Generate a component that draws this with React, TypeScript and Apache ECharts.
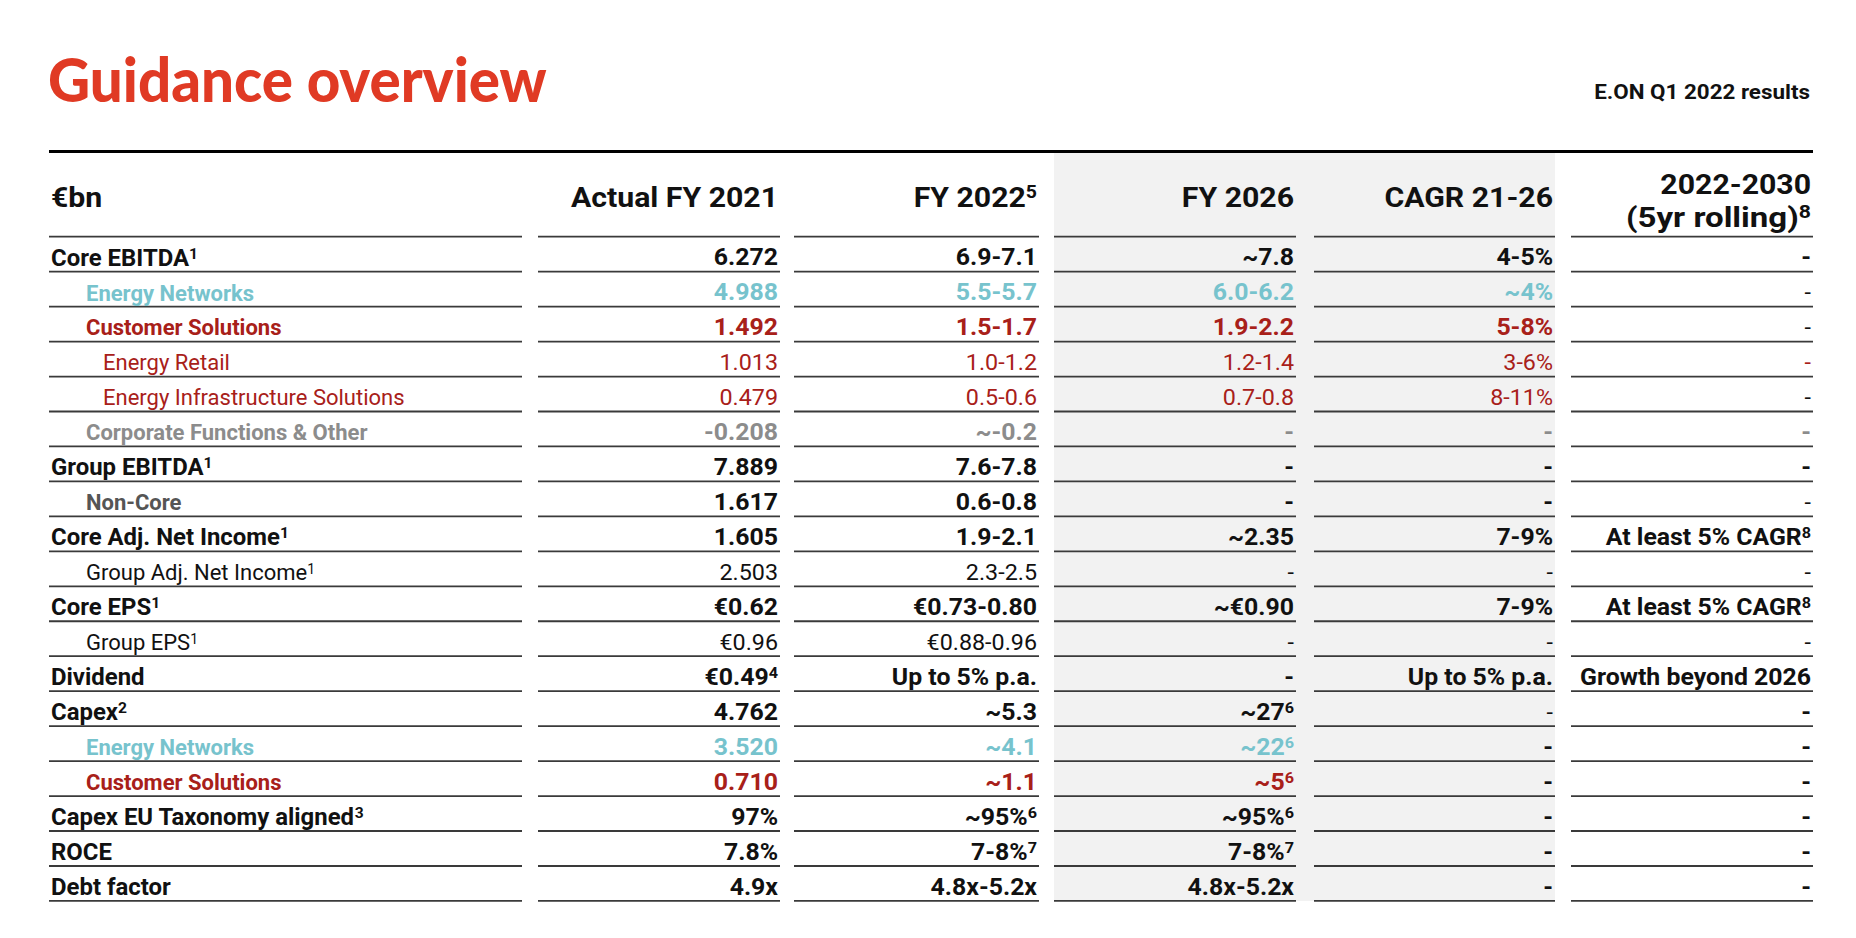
import React, { useEffect, useRef } from "react";
import * as echarts from "echarts";

// ---------- data ----------
const title = "Guidance overview";
const subtitle = "E.ON Q1 2022 results";
const headers = ["€bn", "Actual FY 2021", "FY 2022^5", "FY 2026", "CAGR 21-26", "2022-2030", "(5yr rolling)^8"];

const rowLabels = [
  "Core EBITDA^1",
  "Energy Networks",
  "Customer Solutions",
  "Energy Retail",
  "Energy Infrastructure Solutions",
  "Corporate Functions & Other",
  "Group EBITDA^1",
  "Non-Core",
  "Core Adj. Net Income^1",
  "Group Adj. Net Income^1",
  "Core EPS^1",
  "Group EPS^1",
  "Dividend",
  "Capex^2",
  "Energy Networks",
  "Customer Solutions",
  "Capex EU Taxonomy aligned^3",
  "ROCE",
  "Debt factor",
];
const actualFY2021 = ["6.272", "4.988", "1.492", "1.013", "0.479", "-0.208", "7.889", "1.617", "1.605", "2.503", "€0.62", "€0.96", "€0.49^4", "4.762", "3.520", "0.710", "97%", "7.8%", "4.9x"];
const fy2022 = ["6.9-7.1", "5.5-5.7", "1.5-1.7", "1.0-1.2", "0.5-0.6", "~-0.2", "7.6-7.8", "0.6-0.8", "1.9-2.1", "2.3-2.5", "€0.73-0.80", "€0.88-0.96", "Up to 5% p.a.", "~5.3", "~4.1", "~1.1", "~95%^6", "7-8%^7", "4.8x-5.2x"];
const fy2026 = ["~7.8", "6.0-6.2", "1.9-2.2", "1.2-1.4", "0.7-0.8", "-", "-", "-", "~2.35", "-", "~€0.90", "-", "-", "~27^6", "~22^6", "~5^6", "~95%^6", "7-8%^7", "4.8x-5.2x"];
const cagr2126 = ["4-5%", "~4%", "5-8%", "3-6%", "8-11%", "-", "-", "-", "7-9%", "-", "7-9%", "-", "Up to 5% p.a.", "-", "-", "-", "-", "-", "-"];
const rolling2230 = ["-", "-", "-", "-", "-", "-", "-", "-", "At least 5% CAGR^8", "-", "At least 5% CAGR^8", "-", "Growth beyond 2026", "-", "-", "-", "-", "-", "-"];

// ---------- styles ----------
const RED = "#E03A24";
const TEAL = "#77C3CD";
const DRED = "#A82019";
const GREY = "#8C8C8C";
const DGREY = "#555555";
const BLACK = "#111111";
const FONT = "Roboto, 'Noto Sans', sans-serif";

type RS = { c: string; b: boolean; ind: number; vc?: (string | null)[]; vb?: (boolean | null)[] };
const rowStyles: RS[] = [
  { c: BLACK, b: true, ind: 0 },
  { c: TEAL, b: true, ind: 1, vc: [null, null, null, null, BLACK], vb: [null, null, null, null, false] },
  { c: DRED, b: true, ind: 1, vc: [null, null, null, null, BLACK], vb: [null, null, null, null, false] },
  { c: DRED, b: false, ind: 2 },
  { c: DRED, b: false, ind: 2, vc: [null, null, null, null, BLACK] },
  { c: GREY, b: true, ind: 1 },
  { c: BLACK, b: true, ind: 0 },
  { c: DGREY, b: true, ind: 1, vc: [BLACK, BLACK, BLACK, BLACK, BLACK], vb: [null, null, null, null, false] },
  { c: BLACK, b: true, ind: 0 },
  { c: BLACK, b: false, ind: 1 },
  { c: BLACK, b: true, ind: 0 },
  { c: BLACK, b: false, ind: 1 },
  { c: BLACK, b: true, ind: 0 },
  { c: BLACK, b: true, ind: 0, vb: [null, null, null, false, null] },
  { c: TEAL, b: true, ind: 1, vc: [null, null, null, BLACK, BLACK] },
  { c: DRED, b: true, ind: 1, vc: [null, null, null, BLACK, BLACK] },
  { c: BLACK, b: true, ind: 0 },
  { c: BLACK, b: true, ind: 0 },
  { c: BLACK, b: true, ind: 0 },
];

// layout
const LEFT = 49;
const INDENT = [51, 86, 103];
const colSegs = [
  [49, 522],
  [538, 780],
  [794, 1039],
  [1054, 1296],
  [1314, 1555],
  [1571, 1813],
];
const TOP_LINE_Y = 151.5;
const HEAD_LINE_Y = 236.7;
const ROW_H = 34.96;
const BOLD_SIZE = 23;
const NORM_SIZE = 22;
const BOLD_LABEL_SX = 1.04;
const SUB_BOLD_LABEL_SX = 1.0;
const BOLD_VALUE_SX = 1.08;
const NORM_LABEL_SX = 1.0;
const NORM_VALUE_SX = 1.06;

function makeText(s: string, x: number, yMid: number, size: number, bold: boolean, color: string, align: string, sx: number) {
  const parts = s.split("^");
  const weight = bold ? "bold" : "normal";
  if (parts.length === 1) {
    return {
      type: "text",
      x,
      y: yMid,
      scaleX: sx,
      style: { text: s, fill: color, fontSize: size, fontWeight: weight, fontFamily: FONT, align, verticalAlign: "middle" },
    };
  }
  const sup = Math.round(size * 0.64);
  return {
    type: "text",
    x,
    y: yMid,
    scaleX: sx,
    style: {
      text: `{m|${parts[0]}}{s|${parts[1]}}`,
      fill: color,
      fontSize: size,
      fontWeight: weight,
      fontFamily: FONT,
      align,
      verticalAlign: "middle",
      rich: {
        m: { fontSize: size, lineHeight: size, fontWeight: weight, fontFamily: FONT, fill: color },
        s: { fontSize: sup, lineHeight: sup + 1, fontWeight: weight, fontFamily: FONT, fill: color, verticalAlign: "top" },
      },
    },
  };
}

function buildGraphics() {
  const g: any[] = [];
  const nRows = rowLabels.length;
  const bottom = HEAD_LINE_Y + ROW_H * nRows;
  // shaded columns
  g.push({ type: "rect", shape: { x: 1054, y: TOP_LINE_Y + 1.5, width: 501, height: bottom - TOP_LINE_Y - 1.5 }, style: { fill: "#F2F2F2" } });
  // title
  g.push({ type: "text", x: 48, y: 78, scaleX: 0.955, style: { text: title, fill: RED, fontSize: 61, fontWeight: 900, fontFamily: "Lato, Roboto, sans-serif", align: "left", verticalAlign: "middle" } });
  g.push({ type: "text", x: 1810, y: 91.5, scaleX: 1.12, style: { text: subtitle, fill: BLACK, fontSize: 20, fontWeight: "bold", fontFamily: FONT, align: "right", verticalAlign: "middle" } });
  // top line
  g.push({ type: "line", shape: { x1: LEFT, y1: TOP_LINE_Y, x2: 1813, y2: TOP_LINE_Y }, style: { stroke: "#000", lineWidth: 3 } });
  // headers
  const hSize = 28;
  const hSx = 1.08;
  g.push(makeText(headers[0], 51, 197.5, hSize, true, BLACK, "left", hSx));
  for (let c = 1; c <= 4; c++) g.push(makeText(headers[c], colSegs[c][1] - 2, 197.5, hSize, true, BLACK, "right", hSx));
  g.push(makeText(headers[5], colSegs[5][1] - 2, 184, hSize, true, BLACK, "right", hSx));
  g.push(makeText(headers[6], colSegs[5][1] - 2, 217, hSize, true, BLACK, "right", 1.18));
  // horizontal lines
  for (let r = 0; r <= nRows; r++) {
    const y = HEAD_LINE_Y + ROW_H * r;
    for (const [x1, x2] of colSegs) {
      g.push({ type: "line", shape: { x1, y1: y, x2, y2: y }, style: { stroke: "#3a3a3a", lineWidth: 1.8 } });
    }
  }
  // rows
  const cols = [actualFY2021, fy2022, fy2026, cagr2126, rolling2230];
  for (let r = 0; r < nRows; r++) {
    const st = rowStyles[r];
    const baseline = HEAD_LINE_Y + ROW_H * (r + 1) - 6;
    const labelSize = st.b && st.ind === 0 ? BOLD_SIZE : NORM_SIZE;
    const labelSx = st.b ? (st.ind === 0 ? BOLD_LABEL_SX : SUB_BOLD_LABEL_SX) : NORM_LABEL_SX;
    g.push(makeText(rowLabels[r], INDENT[st.ind], baseline - labelSize * 0.345, labelSize, st.b, st.c, "left", labelSx));
    for (let c = 0; c < 5; c++) {
      const color = (st.vc && st.vc[c]) || st.c;
      const bold = st.vb && st.vb[c] !== null && st.vb[c] !== undefined ? (st.vb[c] as boolean) : st.b;
      const size = bold ? BOLD_SIZE : NORM_SIZE;
      g.push(makeText(cols[c][r], colSegs[c + 1][1] - 2, baseline - size * 0.345, size, bold, color, "right", bold ? BOLD_VALUE_SX : NORM_VALUE_SX));
    }
  }
  return g;
}

export default function App() {
  const ref = useRef<HTMLDivElement>(null);
  useEffect(() => {
    if (!ref.current) return;
    const chart = echarts.init(ref.current, null, { renderer: "svg" });
    chart.setOption({
      animation: false,
      backgroundColor: "#ffffff",
      graphic: { elements: buildGraphics() },
    });
    return () => chart.dispose();
  }, []);
  return <div ref={ref} style={{ position: "fixed", left: 0, top: 0, width: 1856, height: 938, background: "#fff" }} />;
}
